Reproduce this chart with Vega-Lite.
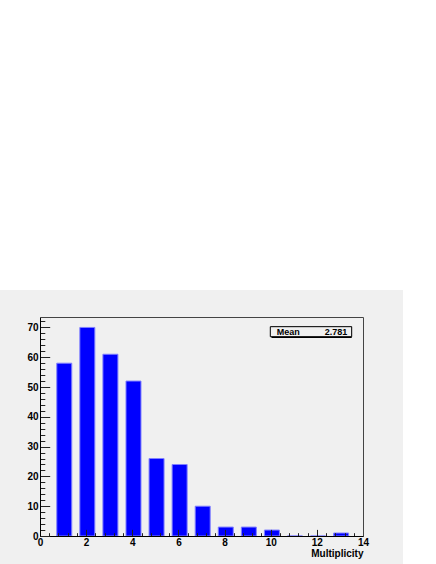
{
  "$schema": "https://vega.github.io/schema/vega-lite/v6.json",
  "width": 323,
  "height": 219,
  "autosize": {"type": "none"},
  "padding": {"left": 40, "top": 317, "right": 73, "bottom": 28},
  "background": "white",
  "config": {
    "view": {"stroke": null},
    "scale": {"continuousPadding": 0},
    "axis": {
      "grid": false,
      "labelFont": "Liberation Sans",
      "labelFontWeight": "bold",
      "labelFontSize": 10,
      "labelColor": "black",
      "titleFont": "Liberation Sans",
      "titleFontWeight": "bold",
      "titleFontSize": 10,
      "titleColor": "black",
      "domainColor": "black",
      "domainWidth": 1,
      "tickColor": "#222",
      "tickWidth": 1
    }
  },
  "resolve": {"axis": {"x": "independent", "y": "independent"}},
  "layer": [
    {
      "data": {"values": [{}]},
      "mark": {"type": "rect", "fill": "#f0f0f0"},
      "encoding": {
        "x": {"datum": -2, "type": "quantitative", "scale": {"domain": [0, 14], "nice": false, "zero": false, "padding": 0},
              "axis": {"orient": "top", "zindex": 1, "labels": false, "ticks": false, "title": null, "domainColor": "#444"}},
        "x2": {"datum": 15.734},
        "y": {"datum": -10, "type": "quantitative", "scale": {"domain": [0, 73.5], "nice": false, "zero": false, "padding": 0},
              "axis": {"orient": "right", "zindex": 1, "labels": false, "ticks": false, "title": null, "domainColor": "#444"}},
        "y2": {"datum": 82.56}
      }
    },
    {
      "data": {"values": [{}]},
      "mark": {"type": "rect", "fill": "black", "xOffset": 1.2, "yOffset": 1.2},
      "encoding": {
        "x": {"datum": 9.982, "type": "quantitative", "scale": {"domain": [0, 14], "nice": false, "zero": false, "padding": 0},
              "axis": {"orient": "bottom", "zindex": 1, "labels": false, "domain": false, "title": null, "tickSize": -3.3,
                       "values": [0,0.4,0.8,1.2,1.6,2,2.4,2.8,3.2,3.6,4,4.4,4.8,5.2,5.6,6,6.4,6.8,7.2,7.6,8,8.4,8.8,9.2,9.6,10,10.4,10.8,11.2,11.6,12,12.4,12.8,13.2,13.6,14]}},
        "x2": {"datum": 13.51},
        "y": {"datum": 66.89, "type": "quantitative", "scale": {"domain": [0, 73.5], "nice": false, "zero": false, "padding": 0},
              "axis": {"orient": "left", "zindex": 1, "labels": false, "domain": false, "title": null, "tickSize": -4.8,
                       "values": [0,2,4,6,8,10,12,14,16,18,20,22,24,26,28,30,32,34,36,38,40,42,44,46,48,50,52,54,56,58,60,62,64,66,68,70,72]}},
        "y2": {"datum": 70.25}
      }
    },
    {
      "data": {"values": [{}]},
      "mark": {"type": "rect", "fill": "#f0f0f0", "stroke": "black", "strokeWidth": 1},
      "encoding": {
        "x": {"datum": 9.982, "type": "quantitative", "scale": {"domain": [0, 14], "nice": false, "zero": false, "padding": 0}, "axis": null},
        "x2": {"datum": 13.51},
        "y": {"datum": 66.89, "type": "quantitative", "scale": {"domain": [0, 73.5], "nice": false, "zero": false, "padding": 0}, "axis": null},
        "y2": {"datum": 70.25}
      }
    },
    {
      "data": {"values": [{"label": "Mean", "value": "2.781"}]},
      "mark": {"type": "text", "align": "left", "baseline": "alphabetic", "font": "Liberation Sans", "fontWeight": "bold", "fontSize": 9, "color": "black"},
      "encoding": {
        "x": {"datum": 10.26, "type": "quantitative", "scale": {"domain": [0, 14], "nice": false, "zero": false, "padding": 0}, "axis": null},
        "y": {"datum": 67.46, "type": "quantitative", "scale": {"domain": [0, 73.5], "nice": false, "zero": false, "padding": 0}, "axis": null},
        "text": {"field": "label"}
      }
    },
    {
      "data": {"values": [{"label": "Mean", "value": "2.781"}]},
      "mark": {"type": "text", "align": "right", "baseline": "alphabetic", "font": "Liberation Sans", "fontWeight": "bold", "fontSize": 9, "color": "black"},
      "encoding": {
        "x": {"datum": 13.32, "type": "quantitative", "scale": {"domain": [0, 14], "nice": false, "zero": false, "padding": 0}, "axis": null},
        "y": {"datum": 67.46, "type": "quantitative", "scale": {"domain": [0, 73.5], "nice": false, "zero": false, "padding": 0}, "axis": null},
        "text": {"field": "value"}
      }
    },
    {
      "data": {"values": [
        {"multiplicity": 1, "count": 58},
        {"multiplicity": 2, "count": 70},
        {"multiplicity": 3, "count": 61},
        {"multiplicity": 4, "count": 52},
        {"multiplicity": 5, "count": 26},
        {"multiplicity": 6, "count": 24},
        {"multiplicity": 7, "count": 10},
        {"multiplicity": 8, "count": 3},
        {"multiplicity": 9, "count": 3},
        {"multiplicity": 10, "count": 2},
        {"multiplicity": 11, "count": 0},
        {"multiplicity": 12, "count": 0},
        {"multiplicity": 13, "count": 1}
      ]},
      "mark": {"type": "bar", "width": 15, "xOffset": 1.2, "fill": "#0000ff", "stroke": "#8080ff", "strokeWidth": 1},
      "encoding": {
        "x": {"field": "multiplicity", "type": "quantitative", "scale": {"domain": [0, 14], "nice": false, "zero": false, "padding": 0},
              "axis": {"orient": "bottom", "zindex": 1, "title": "Multiplicity", "titleAnchor": "end", "titlePadding": 1,
                       "values": [0,2,4,6,8,10,12,14], "tickSize": -6.6, "labelPadding": 8.4, "labelFlush": false, "labelOverlap": false}},
        "y": {"field": "count", "type": "quantitative", "scale": {"domain": [0, 73.5], "nice": false, "zero": false, "padding": 0},
              "axis": {"orient": "left", "zindex": 1, "title": null, "values": [0,10,20,30,40,50,60,70], "tickSize": -9.7, "labelPadding": 11.7, "labelOverlap": false}}
      }
    }
  ]
}
